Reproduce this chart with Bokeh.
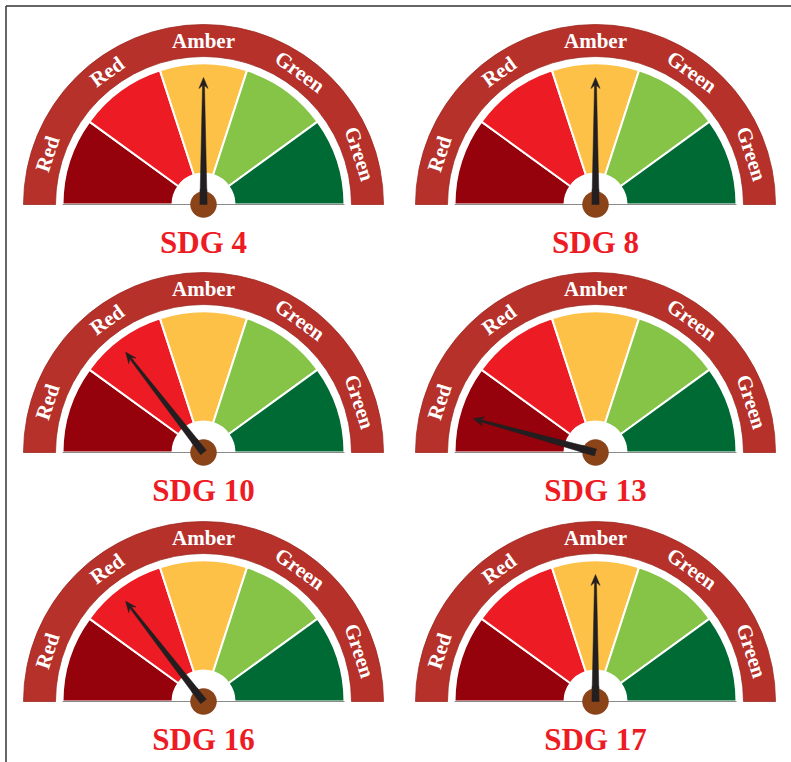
import math
from bokeh.plotting import figure
from bokeh.models import Range1d
from bokeh.core.properties import value
from bokeh.embed import file_html
from bokeh.resources import INLINE

# ---------------- data ----------------
sdg_labels = ["SDG 4", "SDG 8", "SDG 10", "SDG 13", "SDG 16", "SDG 17"]
# needle position on a 0..5 scale (0 = far left "Red", 5 = far right "Green")
needle_scores = [2.5, 2.5, 1.45, 0.43, 1.45, 2.5]
band_labels = ["Red", "Red", "Amber", "Green", "Green"]
sector_colors = ["#95020B", "#ED1C24", "#FDC147", "#86C447", "#006A34"]

# ---------------- layout ----------------
col_x = [203, 595]
row_y = [204, 452, 701]
R_BAND_OUT, R_BAND_IN = 180, 148
R_SECT_OUT, R_SECT_IN = 141, 31
R_HUB = 13
NEEDLE_LEN = 127
BAND_COLOR = "#B5312A"

W, H = 791, 762
p = figure(width=W, height=H, x_range=Range1d(0, W), y_range=Range1d(-H, 0),
           output_backend="svg", toolbar_location=None, min_border=0)
p.axis.visible = False
p.grid.visible = False
p.outline_line_color = None
p.background_fill_color = "white"
p.border_fill_color = "white"

# frame lines (top and left)
p.line([5.5, W], [-5.5, -5.5], line_color="#333333", line_width=1.5)
p.line([5.5, 5.5], [-5.5, -H], line_color="#333333", line_width=1.5)

n = len(band_labels)
step = math.pi / n

for i, (lab, score) in enumerate(zip(sdg_labels, needle_scores)):
    cx = col_x[i % 2]
    cy = -row_y[i // 2]

    # outer band
    p.annular_wedge(x=[cx], y=[cy], inner_radius=R_BAND_IN, outer_radius=R_BAND_OUT,
                    start_angle=0, end_angle=math.pi, fill_color=BAND_COLOR,
                    line_color="#9E2A22", line_width=0.8)

    # band labels
    angs = [math.pi - (k + 0.5) * step for k in range(n)]
    r_txt = (R_BAND_IN + R_BAND_OUT) / 2
    p.text(x=[cx + r_txt * math.cos(a) for a in angs],
           y=[cy + r_txt * math.sin(a) for a in angs],
           text=band_labels, angle=[a - math.pi / 2 for a in angs],
           text_align="center", text_baseline="middle",
           text_font=value("Liberation Serif"), text_font_style="bold",
           text_font_size="21px", text_color="white")

    # sectors
    starts = [math.pi - (k + 1) * step for k in range(n)]
    ends = [math.pi - k * step for k in range(n)]
    p.annular_wedge(x=[cx] * n, y=[cy] * n, inner_radius=R_SECT_IN, outer_radius=R_SECT_OUT,
                    start_angle=starts, end_angle=ends, fill_color=sector_colors,
                    line_color="white", line_width=2)

    # baseline
    p.line([cx - R_SECT_OUT, cx + R_SECT_OUT], [cy, cy], line_color="#8a8a8a", line_width=1)

    # needle
    th = math.pi - score * step
    ux, uy = math.cos(th), math.sin(th)
    px, py = -uy, ux
    L = NEEDLE_LEN

    def pt(d, w):
        return cx + d * ux + w * px, cy + d * uy + w * py

    pts = [pt(0, 3.6), pt(L - 8, 1.0), pt(L - 11, 4.6), pt(L, 0),
           pt(L - 11, -4.6), pt(L - 8, -1.0), pt(0, -3.6)]
    p.patch([q[0] for q in pts], [q[1] for q in pts], fill_color="#231F20",
            line_color="#231F20", line_width=0.5)

    # hub
    p.scatter(x=[cx], y=[cy], size=2 * R_HUB, fill_color="#8B4318", line_color="#7A3A14",
              line_width=0.5)
    # redraw needle base over hub
    pts2 = [pt(0, 3.6), pt(R_HUB + 2, 3.3), pt(R_HUB + 2, -3.3), pt(0, -3.6)]
    p.patch([q[0] for q in pts2], [q[1] for q in pts2], fill_color="#231F20",
            line_color="#231F20", line_width=0.5)

    # title
    p.text(x=[cx], y=[cy - 38], text=[lab], text_align="center", text_baseline="middle",
           text_font=value("Liberation Serif"), text_font_style="bold",
           text_font_size="31px", text_color="#ED1C24")

open("out.html", "w").write(file_html(p, INLINE))
